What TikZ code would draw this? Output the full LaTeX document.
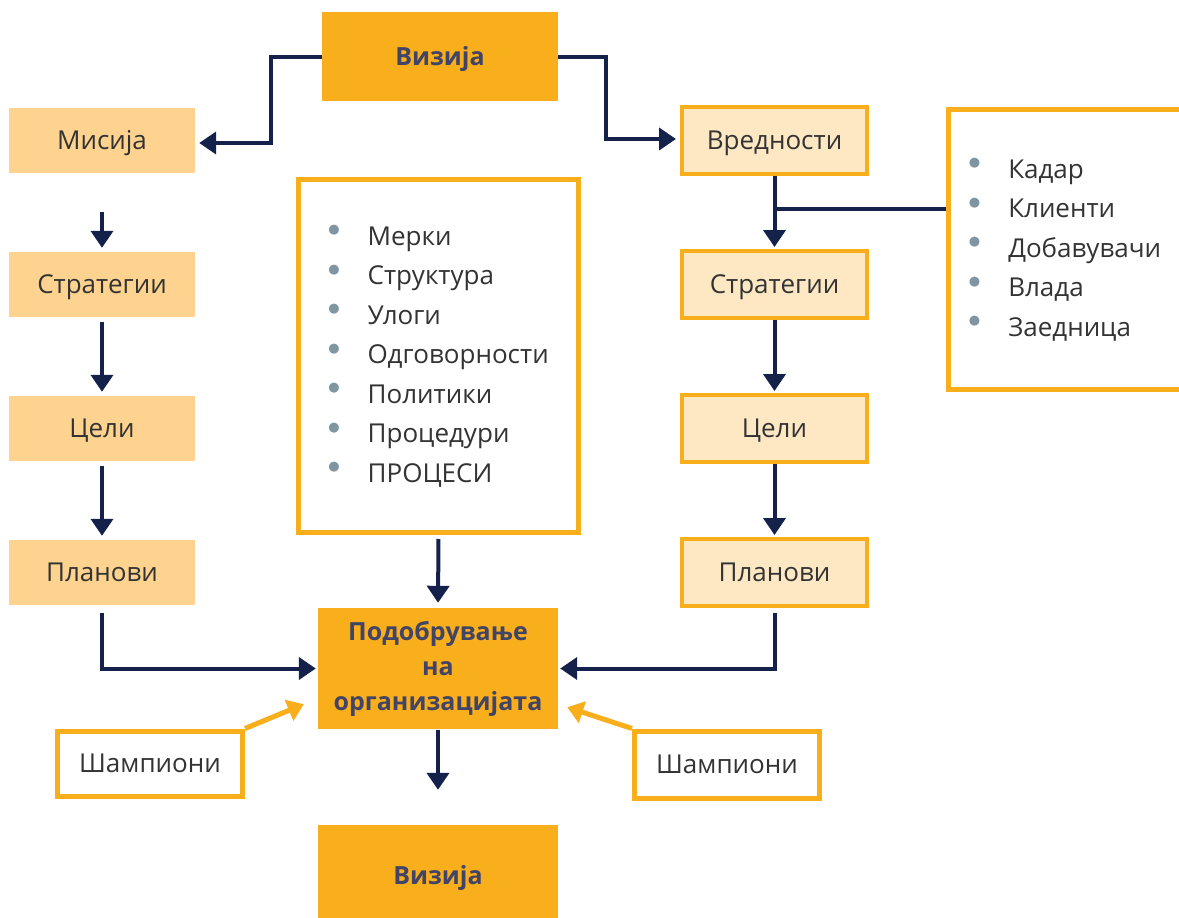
\documentclass[tikz,border=0pt]{standalone}
\usepackage{fontspec}
\setmainfont{Open Sans}
\newfontfamily\symfont{DejaVu Sans}
\usepackage{tikz}
\usetikzlibrary{positioning, arrows.meta, calc}

\definecolor{vizorange}{HTML}{F9AE1B}
\definecolor{lightorange}{HTML}{FDD38F}
\definecolor{paleorange}{HTML}{FEE8C4}
\definecolor{navy}{HTML}{14214B}
\definecolor{headtext}{HTML}{414466}
\definecolor{bodytext}{HTML}{333333}
\definecolor{bulletgray}{HTML}{7F95A1}

\newcommand{\bul}{\raisebox{11.5pt}[0pt][0pt]{\symfont\fontsize{13}{13}\selectfont\textcolor{bulletgray}{●}}}

\begin{document}
\begin{tikzpicture}[x=1pt, y=-1pt,
  every node/.style={font=\fontsize{26}{31}\selectfont, text=bodytext, inner sep=0pt},
  oneline/.style={text height=18.5pt, text depth=0pt},
  headbox/.style={fill=vizorange, minimum width=236, minimum height=89,
    font=\fontsize{25}{35}\selectfont\bfseries, text=headtext, align=center},
  leftbox/.style={oneline, fill=lightorange, minimum width=186, minimum height=65},
  rightbox/.style={oneline, fill=paleorange, draw=vizorange, line width=4pt,
    minimum width=185, minimum height=67},
  listbox/.style={fill=white, draw=vizorange, line width=5pt},
  champbox/.style={oneline, fill=white, draw=vizorange, line width=5pt,
    minimum width=185, minimum height=65},
  flow/.style={draw=navy, line width=4pt, -{Triangle[length=17pt, width=22pt]}},
  link/.style={draw=navy, line width=4pt},
  champ/.style={draw=vizorange, line width=5pt, -{Triangle[length=16pt, width=22pt]}}
]
\useasboundingbox (0,0) rectangle (1179,918);

% --- Vision (top and bottom) ---
\node[headbox, text height=18pt, text depth=0pt] (vistop) at (440, 56.5) {Визија};
\node[headbox, text height=18pt, text depth=0pt, minimum width=240,
  minimum height=100] (visbot) at (438, 875) {Визија};

% --- Left column ---
\node[leftbox] (mis) at (102, 140.5) {Мисија};
\node[leftbox] (strl) at (102, 284.5) {Стратегии};
\node[leftbox] (cell) at (102, 428.5) {Цели};
\node[leftbox] (planl) at (102, 572.5) {Планови};

% --- Right column ---
\node[rightbox] (vals) at (774.5, 140.5) {Вредности};
\node[rightbox] (strr) at (774.5, 284.5) {Стратегии};
\node[rightbox] (celr) at (774.5, 428.5) {Цели};
\node[rightbox] (planr) at (774.5, 572.5) {Планови};

% --- Lists ---
\node[listbox, minimum width=280, minimum height=353] (tools) at (438.5, 356)
  {\fontsize{26}{39.5}\selectfont
   \begin{tabular}{@{}l@{\hspace{28pt}}l@{}}
   \bul & Мерки\\ \bul & Структура\\ \bul & Улоги\\ \bul & Одговорности\\
   \bul & Политики\\ \bul & Процедури\\ \bul & ПРОЦЕСИ
   \end{tabular}};
\node[listbox, minimum width=234, minimum height=280] (stake) at (1065, 249.5)
  {\fontsize{26}{39.5}\selectfont
   \begin{tabular}{@{}l@{\hspace{28pt}}l@{}}
   \bul & Кадар\\ \bul & Клиенти\\ \bul & Добавувачи\\ \bul & Влада\\
   \bul & Заедница
   \end{tabular}};

% --- Improvement ---
\node[headbox, minimum width=240, minimum height=121] (impr) at (438, 668.5)
  {Подобрување\\на\\организацијата};

% --- Champions ---
\node[champbox] (champl) at (150, 763.5) {Шампиони};
\node[champbox, minimum height=67] (champr) at (727, 764.5) {Шампиони};

% --- Connectors ---
\draw[flow] (vistop.west) -- ++(-51,0) |- ($(mis.east)+(4,2.5)$);
\draw[flow] (vistop.east) -- ++(48,0) |- ($(vals.west)+(-4,-1.5)$);

\draw[flow, shorten <=39pt, shorten >=4pt] (mis.south) -- (strl.north);
\foreach \a/\b in {strl/cell, cell/planl} {
  \draw[flow, shorten <=5pt, shorten >=4pt] (\a.south) -- (\b.north);
}
\foreach \a/\b in {vals/strr, strr/celr, celr/planr} {
  \draw[flow, shorten >=2pt] (\a.south) -- (\b.north);
}
\coordinate (branch) at ($(vals.south)!0.45!(strr.north)$);
\draw[link] (stake.west |- branch) -- (branch);

\draw[flow, shorten <=4pt, shorten >=5pt] (tools.south) -- (impr.north);
\draw[flow, shorten <=8pt, shorten >=2pt] (planl.south) |- (impr.west);
\draw[flow, shorten <=5pt, shorten >=2pt] (planr.south) |- (impr.east);
\draw[flow, shorten <=1pt, shorten >=35pt] (impr.south) -- (visbot.north);

\draw[champ] (champl.north east) -- ($(impr.south west)+(-14,-25)$);
\draw[champ] (champr.north west) -- ($(impr.south east)+(9,-22)$);

\end{tikzpicture}
\end{document}
